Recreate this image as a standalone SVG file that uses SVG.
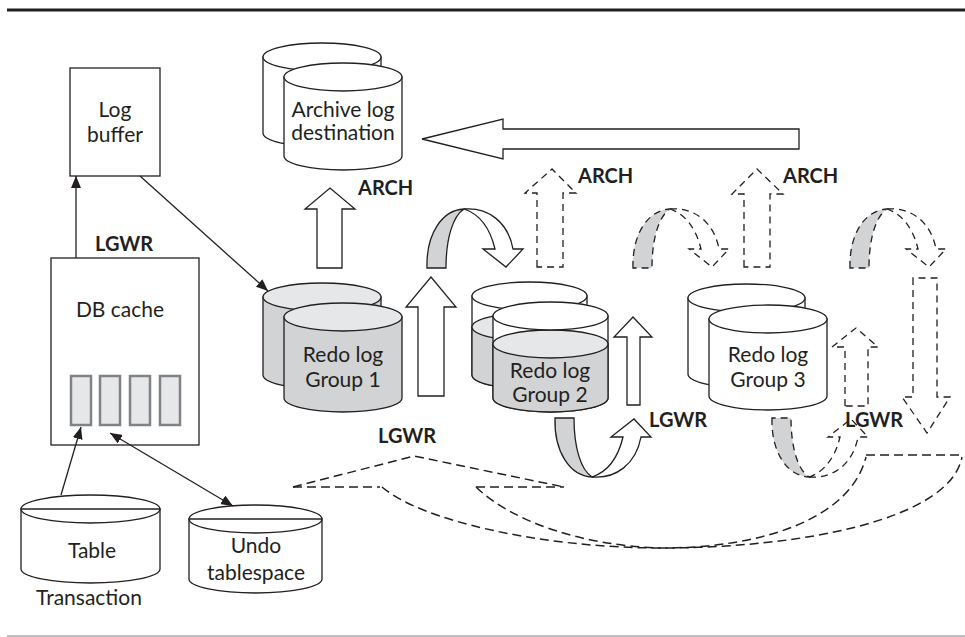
<svg xmlns="http://www.w3.org/2000/svg" width="965" height="637" viewBox="0 0 965 637">
<style>
.s{fill:none;stroke:#231f20;stroke-width:1.3}
.w{fill:#fff;stroke:#231f20;stroke-width:1.3}
.g{fill:#d1d3d4;stroke:#231f20;stroke-width:1.3}
.lt{fill:#e6e7e8;stroke:#231f20;stroke-width:1.3}
.d{stroke-dasharray:7 5}
.dd{fill:none;stroke:#231f20;stroke-width:1.5;stroke-dasharray:9 5}
.t{font-family:Lato,"Open Sans",sans-serif;font-size:21px;fill:#231f20;text-anchor:middle}
.b{font-family:Lato,"Open Sans",sans-serif;font-size:20px;font-weight:bold;fill:#231f20}
.cell{fill:#e6e7e8;stroke:#808285;stroke-width:2.5}
</style>
<defs>
<marker id="ah" viewBox="0 0 12 10" refX="12" refY="5" markerWidth="12" markerHeight="10" orient="auto-start-reverse" markerUnits="userSpaceOnUse"><path d="M0,0 L12,5 L0,10 Z" fill="#231f20"/></marker>
<g id="curveUp">
<path class="g" d="M427,268 C426,234 442,210 464,209 C453,216 446,238 446,268 Z"/>
<path class="w" d="M464,209 C488,207 508,222 513,249 L523,249 L506,267 L483,249 L495,249 C490,228 479,214 464,209 Z"/>
</g>
</defs>

<line x1="7" y1="10" x2="965" y2="10" stroke="#231f20" stroke-width="3"/>
<line x1="7" y1="636" x2="965" y2="636" stroke="#a7a9ac" stroke-width="1.5"/>

<g id="log-buffer">
<rect class="w" x="70" y="68" width="90" height="108"/>
<text class="t" x="115" y="117">Log</text>
<text class="t" x="115" y="142">buffer</text>
</g>

<g id="db-cache">
<rect class="w" x="51" y="258" width="148" height="187"/>
<text class="t" x="120" y="317">DB cache</text>
<rect class="cell" x="71" y="376" width="20" height="49"/>
<rect class="cell" x="100" y="376" width="20" height="49"/>
<rect class="cell" x="130" y="376" width="20" height="49"/>
<rect class="cell" x="160" y="376" width="20" height="49"/>
</g>

<g id="table">
<path class="w" d="M21,509 L21,569 A69.5,14 0 0 0 160,569 L160,509 Z"/>
<ellipse class="w" cx="90.5" cy="509" rx="69.5" ry="14"/>
<line class="s" x1="21" y1="509" x2="160" y2="509"/>
<text class="t" x="92" y="558">Table</text>
<text class="t" x="89" y="605">Transaction</text>
</g>

<g id="undo">
<path class="w" d="M189,519 L189,579 A66.5,14 0 0 0 322,579 L322,519 Z"/>
<ellipse class="w" cx="255.5" cy="519" rx="66.5" ry="14"/>
<line class="s" x1="189" y1="519" x2="322" y2="519"/>
<text class="t" x="256" y="553">Undo</text>
<text class="t" x="256" y="580">tablespace</text>
</g>

<g id="archive">
<path class="w" d="M263,57 L263,133 A59,14 0 0 0 381,133 L381,57 Z"/>
<ellipse class="w" cx="322" cy="57" rx="59" ry="14"/>
<path class="w" d="M284,77 L284,156 A59,14 0 0 0 402,156 L402,77 Z"/>
<ellipse class="w" cx="343" cy="77" rx="59" ry="14"/>
<text class="t" x="343" y="117">Archive log</text>
<text class="t" x="343" y="140">destination</text>
</g>

<g id="redo1">
<path class="g" d="M263,297 L263,375 A59,14 0 0 0 381,375 L381,297 Z"/>
<ellipse class="lt" cx="322" cy="297" rx="59" ry="14"/>
<path class="g" d="M284,317 L284,398 A59,14 0 0 0 402,398 L402,317 Z"/>
<ellipse class="lt" cx="343" cy="317" rx="59" ry="14"/>
<text class="t" x="343" y="362">Redo log</text>
<text class="t" x="343" y="387">Group 1</text>
</g>

<g id="redo2">
<path class="w" d="M472,296 L472,375 A57.5,14 0 0 0 587,375 L587,296 Z"/>
<path class="g" d="M472,327 L472,375 A57.5,14 0 0 0 587,375 L587,327 Z"/>
<ellipse class="lt" cx="529.5" cy="327" rx="57.5" ry="14"/>
<ellipse class="w" cx="529.5" cy="296" rx="57.5" ry="14"/>
<path class="w" d="M493,316 L493,398 A57.5,14 0 0 0 608,398 L608,316 Z"/>
<path class="g" d="M493,344 L493,398 A57.5,14 0 0 0 608,398 L608,344 Z"/>
<ellipse class="lt" cx="550.5" cy="344" rx="57.5" ry="14"/>
<ellipse class="w" cx="550.5" cy="316" rx="57.5" ry="14"/>
<text class="t" x="550" y="378">Redo log</text>
<text class="t" x="550" y="402">Group 2</text>
</g>

<g id="redo3">
<path class="w" d="M688,298 L688,374 A58.5,14 0 0 0 805,374 L805,298 Z"/>
<ellipse class="w" cx="746.5" cy="298" rx="58.5" ry="14"/>
<path class="w" d="M709,319 L709,396 A59,14 0 0 0 827,396 L827,319 Z"/>
<ellipse class="w" cx="768" cy="319" rx="59" ry="14"/>
<text class="t" x="768" y="362">Redo log</text>
<text class="t" x="768" y="387">Group 3</text>
</g>

<g id="connectors">
<line class="s" x1="76" y1="258" x2="76" y2="176" marker-end="url(#ah)"/>
<line class="s" x1="140" y1="176" x2="268" y2="291" marker-end="url(#ah)"/>
<line class="s" x1="61" y1="495" x2="81" y2="427" marker-end="url(#ah)"/>
<line class="s" x1="110" y1="433" x2="233" y2="506" marker-start="url(#ah)" marker-end="url(#ah)"/>

<path class="w" d="M799,129 L503,129 L503,119 L422,139 L503,159 L503,149 L799,149 Z"/>

<path class="w" d="M317,268 L317,209 L305,209 L330,188 L355,209 L342,209 L342,268 Z"/>
<path class="w" d="M418,396 L418,307 L406,307 L431,277 L456,307 L444,307 L444,396 Z"/>
<path class="w" d="M627,405 L627,337 L614,337 L633,317 L652,337 L640,337 L640,405 Z"/>

<path class="w d" d="M537,267 L537,193 L525,193 L552,169 L576,193 L563,193 L563,267 Z"/>
<path class="w d" d="M744,267 L744,194 L732,194 L757,169 L783,194 L770,194 L770,267 Z"/>
<path class="w d" d="M845,406 L845,347 L832,347 L856,328 L878,347 L868,347 L868,406 Z"/>
<path class="w d" d="M913,278 L913,397 L902,397 L927,433 L950,397 L937,397 L937,278 Z"/>

<use href="#curveUp"/>
<g class="d"><use href="#curveUp" transform="translate(206,0)"/></g>
<g class="d"><use href="#curveUp" transform="translate(423,0)"/></g>
<use href="#curveUp" transform="translate(128,686) scale(1,-1)"/>
<g class="d"><use href="#curveUp" transform="translate(345,686) scale(1,-1)"/></g>

<path class="dd" d="M293,487 L414,456 L564,487"/>
<path class="dd" d="M293,487 L380,487"/>
<path class="dd" d="M476,487 L564,487"/>
<path class="dd" d="M382,487 C420,520 540,548 662,548 C800,548 950,520 962,457"/>
<path class="dd" d="M476,487 C510,520 580,546 662,548 C760,548 850,520 866,457"/>
<path class="dd" d="M866,455 L962,455"/>
</g>

<g id="labels">
<text class="b" x="95" y="251">LGWR</text>
<text class="b" x="358" y="195">ARCH</text>
<text class="b" x="578" y="183">ARCH</text>
<text class="b" x="783" y="183">ARCH</text>
<text class="b" x="378" y="443">LGWR</text>
<text class="b" x="649" y="427">LGWR</text>
<text class="b" x="845" y="427">LGWR</text>
</g>
</svg>
